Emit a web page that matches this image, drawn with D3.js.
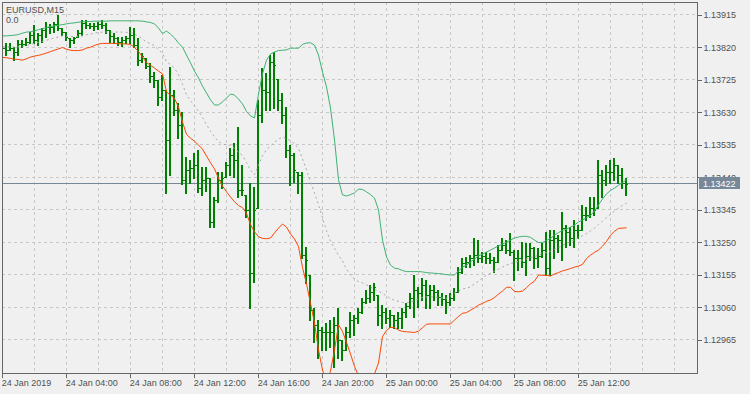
<!DOCTYPE html>
<html>
<head>
<meta charset="utf-8">
<script src="https://cdn.jsdelivr.net/npm/d3@7"></script>
<style>
  html, body { margin: 0; padding: 0; background: #f0f0f0; }
  svg { display: block; }
</style>
</head>
<body>
<div id="chart"></div>
<script>
// EURUSD M15, 24-25 Jan 2019
const symbolLabel = 'EURUSD,M15';
const indicatorLabel = '0.0';
const firstBar = '2019-01-24T00:00:00';
const lastPrice = 1.13422;

const open = [
  1.13821, 1.13819, 1.13813, 1.13819, 1.13807, 1.13830, 1.13830, 1.13836, 1.13857, 1.13842,
  1.13857, 1.13871, 1.13880, 1.13880, 1.13889, 1.13877, 1.13865, 1.13848, 1.13842, 1.13851,
  1.13862, 1.13892, 1.13886, 1.13883, 1.13883, 1.13889, 1.13886, 1.13871, 1.13854, 1.13848,
  1.13836, 1.13842, 1.13848, 1.13857, 1.13827, 1.13783, 1.13789, 1.13766, 1.13737, 1.13725,
  1.13675, 1.13696, 1.13550, 1.13681, 1.13637, 1.13593, 1.13433, 1.13462, 1.13468, 1.13477,
  1.13409, 1.13433, 1.13438, 1.13310, 1.13374, 1.13433, 1.13441, 1.13477, 1.13506, 1.13491,
  1.13403, 1.13389, 1.13345, 1.13161, 1.13351, 1.13623, 1.13696, 1.13690, 1.13778, 1.13728,
  1.13667, 1.13623, 1.13520, 1.13506, 1.13456, 1.13447, 1.13213, 1.13155, 1.13053, 1.13009,
  1.12994, 1.12988, 1.12988, 1.12988, 1.13009, 1.12965, 1.12936, 1.12988, 1.13023, 1.13029,
  1.13047, 1.13076, 1.13088, 1.13105, 1.13097, 1.13038, 1.13047, 1.13029, 1.13038, 1.13023,
  1.13029, 1.13047, 1.13064, 1.13088, 1.13111, 1.13102, 1.13126, 1.13097, 1.13111, 1.13105,
  1.13091, 1.13085, 1.13076, 1.13088, 1.13105, 1.13164, 1.13190, 1.13193, 1.13205, 1.13213,
  1.13205, 1.13210, 1.13205, 1.13199, 1.13193, 1.13228, 1.13243, 1.13228, 1.13222, 1.13205,
  1.13205, 1.13193, 1.13210, 1.13234, 1.13205, 1.13210, 1.13228, 1.13175, 1.13257, 1.13263,
  1.13257, 1.13292, 1.13281, 1.13263, 1.13287, 1.13287, 1.13330, 1.13330, 1.13351, 1.13351,
  1.13447, 1.13433, 1.13456, 1.13456, 1.13477, 1.13447, 1.13424
];
const high = [
  1.13827, 1.13833, 1.13833, 1.13821, 1.13842, 1.13842, 1.13848, 1.13865, 1.13886, 1.13862,
  1.13877, 1.13895, 1.13889, 1.13895, 1.13915, 1.13877, 1.13865, 1.13848, 1.13851, 1.13871,
  1.13900, 1.13900, 1.13892, 1.13892, 1.13895, 1.13900, 1.13892, 1.13871, 1.13862, 1.13851,
  1.13851, 1.13854, 1.13880, 1.13877, 1.13848, 1.13804, 1.13789, 1.13775, 1.13748, 1.13725,
  1.13740, 1.13696, 1.13763, 1.13696, 1.13658, 1.13631, 1.13500, 1.13491, 1.13512, 1.13520,
  1.13471, 1.13471, 1.13438, 1.13383, 1.13456, 1.13456, 1.13485, 1.13526, 1.13541, 1.13588,
  1.13477, 1.13389, 1.13424, 1.13412, 1.13667, 1.13760, 1.13745, 1.13798, 1.13807, 1.13728,
  1.13687, 1.13646, 1.13535, 1.13512, 1.13456, 1.13456, 1.13237, 1.13155, 1.13059, 1.13023,
  1.13003, 1.13015, 1.13023, 1.13032, 1.13059, 1.12965, 1.13003, 1.13047, 1.13038, 1.13059,
  1.13088, 1.13111, 1.13126, 1.13132, 1.13097, 1.13067, 1.13059, 1.13053, 1.13038, 1.13047,
  1.13059, 1.13073, 1.13102, 1.13155, 1.13120, 1.13146, 1.13140, 1.13126, 1.13126, 1.13111,
  1.13102, 1.13097, 1.13102, 1.13117, 1.13178, 1.13205, 1.13208, 1.13213, 1.13263, 1.13257,
  1.13222, 1.13222, 1.13219, 1.13208, 1.13243, 1.13263, 1.13257, 1.13278, 1.13228, 1.13228,
  1.13251, 1.13248, 1.13248, 1.13237, 1.13234, 1.13248, 1.13281, 1.13287, 1.13287, 1.13272,
  1.13339, 1.13301, 1.13295, 1.13316, 1.13301, 1.13360, 1.13354, 1.13383, 1.13383, 1.13491,
  1.13462, 1.13477, 1.13491, 1.13497, 1.13477, 1.13468, 1.13438
];
const low = [
  1.13807, 1.13798, 1.13813, 1.13783, 1.13798, 1.13821, 1.13827, 1.13833, 1.13833, 1.13827,
  1.13836, 1.13851, 1.13862, 1.13865, 1.13871, 1.13857, 1.13842, 1.13821, 1.13833, 1.13851,
  1.13857, 1.13877, 1.13877, 1.13871, 1.13874, 1.13877, 1.13862, 1.13836, 1.13833, 1.13827,
  1.13824, 1.13833, 1.13833, 1.13821, 1.13769, 1.13778, 1.13760, 1.13719, 1.13705, 1.13652,
  1.13667, 1.13395, 1.13447, 1.13623, 1.13555, 1.13421, 1.13395, 1.13424, 1.13438, 1.13398,
  1.13389, 1.13400, 1.13295, 1.13295, 1.13368, 1.13409, 1.13441, 1.13447, 1.13441, 1.13383,
  1.13389, 1.13324, 1.13059, 1.13135, 1.13351, 1.13602, 1.13637, 1.13637, 1.13643, 1.13637,
  1.13599, 1.13500, 1.13418, 1.13427, 1.13395, 1.13205, 1.13132, 1.13023, 1.12959, 1.12912,
  1.12936, 1.12936, 1.12945, 1.12886, 1.12912, 1.12907, 1.12936, 1.12974, 1.12980, 1.13015,
  1.13044, 1.13073, 1.13076, 1.13082, 1.13009, 1.13000, 1.13015, 1.13003, 1.13000, 1.13000,
  1.13000, 1.13032, 1.13059, 1.13032, 1.13061, 1.13082, 1.13059, 1.13059, 1.13082, 1.13067,
  1.13067, 1.13044, 1.13067, 1.13082, 1.13105, 1.13161, 1.13178, 1.13178, 1.13184, 1.13193,
  1.13193, 1.13190, 1.13190, 1.13164, 1.13193, 1.13228, 1.13219, 1.13213, 1.13140, 1.13170,
  1.13178, 1.13155, 1.13199, 1.13175, 1.13178, 1.13208, 1.13155, 1.13155, 1.13205, 1.13222,
  1.13199, 1.13237, 1.13243, 1.13237, 1.13263, 1.13287, 1.13316, 1.13324, 1.13330, 1.13351,
  1.13383, 1.13418, 1.13424, 1.13433, 1.13424, 1.13409, 1.13389
];
const close = [
  1.13819, 1.13813, 1.13819, 1.13807, 1.13830, 1.13830, 1.13836, 1.13857, 1.13842, 1.13857,
  1.13871, 1.13880, 1.13880, 1.13889, 1.13877, 1.13865, 1.13851, 1.13842, 1.13848, 1.13862,
  1.13892, 1.13886, 1.13883, 1.13883, 1.13889, 1.13886, 1.13871, 1.13854, 1.13848, 1.13836,
  1.13842, 1.13848, 1.13857, 1.13827, 1.13783, 1.13795, 1.13766, 1.13737, 1.13725, 1.13675,
  1.13696, 1.13550, 1.13681, 1.13637, 1.13593, 1.13433, 1.13462, 1.13468, 1.13477, 1.13409,
  1.13433, 1.13438, 1.13310, 1.13374, 1.13433, 1.13438, 1.13477, 1.13506, 1.13491, 1.13403,
  1.13403, 1.13345, 1.13161, 1.13345, 1.13623, 1.13696, 1.13690, 1.13778, 1.13769, 1.13667,
  1.13623, 1.13520, 1.13506, 1.13462, 1.13447, 1.13213, 1.13199, 1.13053, 1.13009, 1.12994,
  1.12988, 1.12988, 1.12988, 1.13009, 1.12965, 1.12936, 1.12988, 1.13023, 1.13029, 1.13047,
  1.13076, 1.13088, 1.13105, 1.13120, 1.13038, 1.13047, 1.13029, 1.13038, 1.13023, 1.13029,
  1.13047, 1.13064, 1.13088, 1.13111, 1.13102, 1.13126, 1.13097, 1.13111, 1.13105, 1.13091,
  1.13085, 1.13076, 1.13088, 1.13105, 1.13164, 1.13190, 1.13193, 1.13205, 1.13213, 1.13205,
  1.13210, 1.13205, 1.13199, 1.13193, 1.13228, 1.13243, 1.13228, 1.13222, 1.13205, 1.13205,
  1.13193, 1.13210, 1.13234, 1.13205, 1.13210, 1.13228, 1.13175, 1.13257, 1.13263, 1.13257,
  1.13292, 1.13281, 1.13263, 1.13287, 1.13287, 1.13330, 1.13330, 1.13351, 1.13345, 1.13447,
  1.13433, 1.13456, 1.13456, 1.13477, 1.13447, 1.13424, 1.13422
];

// band indicator: upper (green), middle (grey dashed), lower (red)
const upperBand = [
  1.13854, 1.13854, 1.13855, 1.13856, 1.13858, 1.13862, 1.13865, 1.13866, 1.13869, 1.13872,
  1.13875, 1.13878, 1.13881, 1.13883, 1.13885, 1.13887, 1.13889, 1.13891, 1.13892, 1.13894,
  1.13895, 1.13896, 1.13896, 1.13897, 1.13897, 1.13897, 1.13897, 1.13898, 1.13898, 1.13898,
  1.13898, 1.13898, 1.13898, 1.13898, 1.13898, 1.13897, 1.13895, 1.13893, 1.13889, 1.13877,
  1.13861, 1.13868, 1.13859, 1.13848, 1.13833, 1.13821, 1.13798, 1.13775, 1.13751, 1.13731,
  1.13707, 1.13687, 1.13667, 1.13652, 1.13652, 1.13661, 1.13672, 1.13684, 1.13681, 1.13669,
  1.13655, 1.13633, 1.13620, 1.13614, 1.13684, 1.13743, 1.13783, 1.13801, 1.13807, 1.13811,
  1.13812, 1.13813, 1.13818, 1.13818, 1.13818, 1.13829, 1.13833, 1.13834, 1.13827, 1.13798,
  1.13748, 1.13705, 1.13643, 1.13550, 1.13433, 1.13389, 1.13386, 1.13390, 1.13395, 1.13406,
  1.13405, 1.13398, 1.13390, 1.13380, 1.13345, 1.13257, 1.13208, 1.13184, 1.13175, 1.13173,
  1.13168, 1.13165, 1.13165, 1.13165, 1.13165, 1.13164, 1.13162, 1.13161, 1.13160, 1.13159,
  1.13158, 1.13156, 1.13155, 1.13155, 1.13167, 1.13178, 1.13184, 1.13193, 1.13202, 1.13211,
  1.13216, 1.13222, 1.13228, 1.13234, 1.13240, 1.13246, 1.13251, 1.13257, 1.13263, 1.13266,
  1.13268, 1.13268, 1.13265, 1.13257, 1.13250, 1.13250, 1.13256, 1.13262, 1.13272, 1.13279,
  1.13285, 1.13289, 1.13295, 1.13301, 1.13310, 1.13316, 1.13323, 1.13329, 1.13342, 1.13360,
  1.13377, 1.13392, 1.13402, 1.13409, 1.13417, 1.13425, 1.13434
];
const middleBand = [
  1.13823, 1.13822, 1.13822, 1.13821, 1.13822, 1.13823, 1.13826, 1.13829, 1.13832, 1.13835,
  1.13838, 1.13841, 1.13845, 1.13848, 1.13851, 1.13854, 1.13852, 1.13852, 1.13852, 1.13853,
  1.13854, 1.13857, 1.13859, 1.13862, 1.13864, 1.13865, 1.13865, 1.13865, 1.13865, 1.13865,
  1.13865, 1.13864, 1.13864, 1.13859, 1.13853, 1.13845, 1.13836, 1.13831, 1.13825, 1.13814,
  1.13802, 1.13779, 1.13770, 1.13760, 1.13740, 1.13712, 1.13682, 1.13665, 1.13649, 1.13633,
  1.13615, 1.13595, 1.13575, 1.13559, 1.13545, 1.13538, 1.13535, 1.13534, 1.13525, 1.13514,
  1.13504, 1.13484, 1.13461, 1.13448, 1.13476, 1.13503, 1.13522, 1.13532, 1.13543, 1.13552,
  1.13558, 1.13554, 1.13547, 1.13539, 1.13525, 1.13495, 1.13462, 1.13428, 1.13395, 1.13360,
  1.13322, 1.13285, 1.13254, 1.13233, 1.13213, 1.13196, 1.13172, 1.13155, 1.13142, 1.13136,
  1.13132, 1.13126, 1.13120, 1.13113, 1.13108, 1.13101, 1.13094, 1.13086, 1.13081, 1.13078,
  1.13075, 1.13073, 1.13076, 1.13080, 1.13085, 1.13089, 1.13091, 1.13091, 1.13090, 1.13089,
  1.13088, 1.13087, 1.13094, 1.13102, 1.13108, 1.13114, 1.13117, 1.13120, 1.13129, 1.13137,
  1.13146, 1.13155, 1.13160, 1.13166, 1.13172, 1.13178, 1.13184, 1.13188, 1.13192, 1.13195,
  1.13199, 1.13202, 1.13206, 1.13209, 1.13213, 1.13217, 1.13221, 1.13225, 1.13230, 1.13235,
  1.13241, 1.13247, 1.13253, 1.13258, 1.13264, 1.13270, 1.13276, 1.13284, 1.13292, 1.13303,
  1.13313, 1.13323, 1.13333, 1.13342, 1.13351, 1.13358, 1.13365
];
const lowerBand = [
  1.13791, 1.13790, 1.13788, 1.13786, 1.13785, 1.13783, 1.13787, 1.13792, 1.13795, 1.13797,
  1.13800, 1.13804, 1.13808, 1.13812, 1.13816, 1.13820, 1.13815, 1.13812, 1.13811, 1.13811,
  1.13813, 1.13818, 1.13821, 1.13826, 1.13830, 1.13832, 1.13832, 1.13832, 1.13832, 1.13831,
  1.13831, 1.13830, 1.13829, 1.13820, 1.13808, 1.13792, 1.13776, 1.13768, 1.13760, 1.13751,
  1.13743, 1.13690, 1.13681, 1.13671, 1.13646, 1.13602, 1.13566, 1.13555, 1.13546, 1.13535,
  1.13523, 1.13503, 1.13483, 1.13465, 1.13438, 1.13415, 1.13398, 1.13383, 1.13369, 1.13358,
  1.13352, 1.13335, 1.13302, 1.13281, 1.13267, 1.13262, 1.13261, 1.13263, 1.13278, 1.13292,
  1.13304, 1.13295, 1.13275, 1.13260, 1.13238, 1.13177, 1.13129, 1.13072, 1.13015, 1.12936,
  1.12877, 1.12842, 1.12874, 1.12936, 1.13009, 1.12990, 1.12958, 1.12924, 1.12888, 1.12860,
  1.12851, 1.12848, 1.12851, 1.12866, 1.12898, 1.12975, 1.12993, 1.13002, 1.13001, 1.12994,
  1.12990, 1.12989, 1.12988, 1.12987, 1.12991, 1.13001, 1.13011, 1.13012, 1.13012, 1.13012,
  1.13012, 1.13012, 1.13012, 1.13023, 1.13034, 1.13043, 1.13045, 1.13052, 1.13059, 1.13067,
  1.13072, 1.13078, 1.13082, 1.13089, 1.13099, 1.13108, 1.13119, 1.13119, 1.13107, 1.13106,
  1.13108, 1.13118, 1.13129, 1.13137, 1.13155, 1.13154, 1.13154, 1.13152, 1.13158, 1.13162,
  1.13167, 1.13170, 1.13174, 1.13178, 1.13181, 1.13186, 1.13203, 1.13213, 1.13221, 1.13228,
  1.13239, 1.13253, 1.13271, 1.13283, 1.13291, 1.13292, 1.13293
];

const priceTicks = [1.13915, 1.13820, 1.13725, 1.13630, 1.13535, 1.13440, 1.13345, 1.13250, 1.13155, 1.13060, 1.12965];
const timeTicks = [
  '2019-01-24T00:00:00', '2019-01-24T04:00:00', '2019-01-24T08:00:00', '2019-01-24T12:00:00',
  '2019-01-24T16:00:00', '2019-01-24T20:00:00', '2019-01-25T00:00:00', '2019-01-25T04:00:00',
  '2019-01-25T08:00:00', '2019-01-25T12:00:00'
];
const timeTickLabels = [
  '24 Jan 2019', '24 Jan 04:00', '24 Jan 08:00', '24 Jan 12:00', '24 Jan 16:00',
  '24 Jan 20:00', '25 Jan 00:00', '25 Jan 04:00', '25 Jan 08:00', '25 Jan 12:00'
];

const width = 750;
const height = 394;
const plot = { left: 2, top: 2, right: 697, bottom: 373 };
const font = '"Liberation Sans", Arial, sans-serif';
const textColor = '#505050';
const axisColor = '#666666';

const t0 = new Date(firstBar);
const barsShown = 174; // visible slots incl. right shift
const bars = open.map((o, i) => ({
  t: d3.timeMinute.offset(t0, 15 * i),
  o: o, h: high[i], l: low[i], c: close[i]
}));

const x = d3.scaleTime()
  .domain([t0, d3.timeMinute.offset(t0, 15 * barsShown)])
  .range([2.3, 2.3 + 4 * barsShown]);

const y = d3.scaleLinear()
  .domain([1.128685, 1.13953])
  .range([plot.bottom, plot.top]);

const svg = d3.select('#chart')
  .append('svg')
  .attr('width', width)
  .attr('height', height);

svg.append('rect')
  .attr('width', width)
  .attr('height', height)
  .attr('fill', '#f0f0f0');

svg.append('defs')
  .append('clipPath')
  .attr('id', 'plot-clip')
  .append('rect')
  .attr('x', plot.left)
  .attr('y', plot.top)
  .attr('width', plot.right - plot.left)
  .attr('height', plot.bottom - plot.top);

// dashed grid
const gridTimes = d3.timeHour.range(d3.timeHour.offset(t0, 2), x.domain()[1], 2);
const grid = svg.append('g')
  .attr('stroke', '#c8c8c8')
  .attr('stroke-dasharray', '3,3')
  .attr('shape-rendering', 'crispEdges');

grid.selectAll('line.vgrid')
  .data(gridTimes.filter(d => x(d) < plot.right - 1))
  .enter()
  .append('line')
  .attr('class', 'vgrid')
  .attr('x1', d => Math.floor(x(d)) + 0.5)
  .attr('x2', d => Math.floor(x(d)) + 0.5)
  .attr('y1', plot.top)
  .attr('y2', plot.bottom);

grid.selectAll('line.hgrid')
  .data(priceTicks)
  .enter()
  .append('line')
  .attr('class', 'hgrid')
  .attr('x1', plot.left)
  .attr('x2', plot.right)
  .attr('y1', d => Math.floor(y(d)) + 0.5)
  .attr('y2', d => Math.floor(y(d)) + 0.5);

const plotG = svg.append('g').attr('clip-path', 'url(#plot-clip)');

// bid line
plotG.append('line')
  .attr('x1', plot.left)
  .attr('x2', plot.right)
  .attr('y1', Math.floor(y(lastPrice)) + 0.5)
  .attr('y2', Math.floor(y(lastPrice)) + 0.5)
  .attr('stroke', '#778899')
  .attr('stroke-width', 1)
  .attr('shape-rendering', 'crispEdges');

// OHLC bars
const bx = d => Math.round(x(d.t)) - 1;
const barG = plotG.append('g')
  .attr('fill', '#008000')
  .attr('shape-rendering', 'crispEdges');

barG.selectAll('rect.range')
  .data(bars)
  .enter()
  .append('rect')
  .attr('class', 'range')
  .attr('x', bx)
  .attr('y', d => Math.round(y(d.h)))
  .attr('width', 2)
  .attr('height', d => Math.max(1, Math.round(y(d.l)) - Math.round(y(d.h)) + 1));

barG.selectAll('rect.open')
  .data(bars)
  .enter()
  .append('rect')
  .attr('class', 'open')
  .attr('x', d => bx(d) - 1)
  .attr('y', d => Math.round(y(d.o)))
  .attr('width', 1)
  .attr('height', 1);

barG.selectAll('rect.close')
  .data(bars)
  .enter()
  .append('rect')
  .attr('class', 'close')
  .attr('x', d => bx(d) + 2)
  .attr('y', d => Math.round(y(d.c)))
  .attr('width', 1)
  .attr('height', 1);

// bands
const bandLine = d3.line()
  .x((d, i) => Math.round(x(bars[i].t)) + 0.5)
  .y(d => y(d));

plotG.append('path')
  .datum(middleBand)
  .attr('d', bandLine)
  .attr('fill', 'none')
  .attr('stroke', '#a8a8a8')
  .attr('stroke-width', 1)
  .attr('stroke-dasharray', '2,3');

plotG.append('path')
  .datum(upperBand)
  .attr('d', bandLine)
  .attr('fill', 'none')
  .attr('stroke', '#3cb371')
  .attr('stroke-width', 1);

plotG.append('path')
  .datum(lowerBand)
  .attr('d', bandLine)
  .attr('fill', 'none')
  .attr('stroke', '#ff4500')
  .attr('stroke-width', 1);

// axes
const yAxis = svg.append('g')
  .attr('transform', 'translate(' + (plot.right + 0.5) + ',0)')
  .call(d3.axisRight(y)
    .tickValues(priceTicks)
    .tickSize(4)
    .tickPadding(2)
    .tickFormat(d => d.toFixed(5)));

const xAxis = svg.append('g')
  .attr('transform', 'translate(0,' + (plot.bottom + 0.5) + ')')
  .call(d3.axisBottom(x)
    .tickValues(timeTicks.map(d => new Date(d)))
    .tickSize(4)
    .tickPadding(2)
    .tickFormat((d, i) => timeTickLabels[i]));

xAxis.selectAll('text')
  .attr('text-anchor', 'start')
  .attr('x', -1);

[xAxis, yAxis].forEach(g => {
  g.select('.domain').remove();
  g.attr('font-family', font).attr('font-size', 9);
  g.selectAll('line').attr('stroke', axisColor).attr('shape-rendering', 'crispEdges');
  g.selectAll('text').attr('fill', textColor);
});

// frame
svg.append('rect')
  .attr('x', plot.left + 0.5)
  .attr('y', plot.top + 0.5)
  .attr('width', plot.right - plot.left)
  .attr('height', plot.bottom - plot.top)
  .attr('fill', 'none')
  .attr('stroke', axisColor)
  .attr('shape-rendering', 'crispEdges');

// last price tag
const tagY = Math.floor(y(lastPrice));
svg.append('rect')
  .attr('x', 699)
  .attr('y', tagY - 6)
  .attr('width', 41)
  .attr('height', 12)
  .attr('fill', '#778899');

svg.append('text')
  .attr('x', 703)
  .attr('y', tagY + 3.5)
  .attr('font-family', font)
  .attr('font-size', 9)
  .attr('fill', '#ffffff')
  .text(lastPrice.toFixed(5));

// header
svg.append('text')
  .attr('x', 6)
  .attr('y', 13)
  .attr('font-family', font)
  .attr('font-size', 9)
  .attr('fill', textColor)
  .text(symbolLabel);

svg.append('text')
  .attr('x', 6)
  .attr('y', 23)
  .attr('font-family', font)
  .attr('font-size', 9)
  .attr('fill', textColor)
  .text(indicatorLabel);
</script>
</body>
</html>
